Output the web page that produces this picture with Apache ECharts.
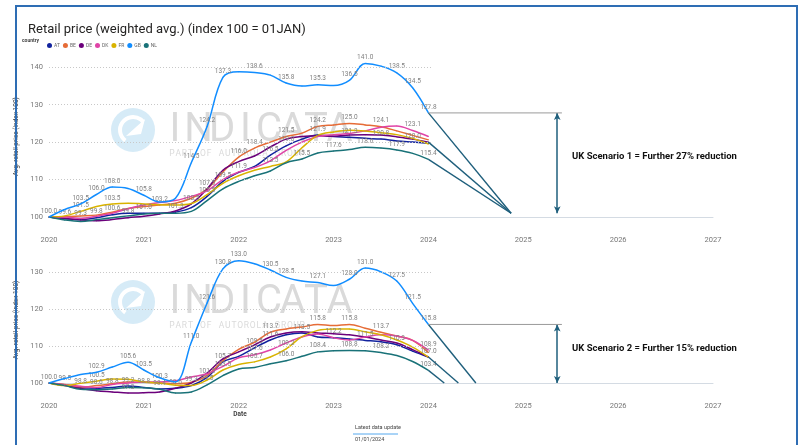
<!DOCTYPE html>
<html>
<head>
<meta charset="utf-8">
<title>Retail price (weighted avg.)</title>
<script src="https://cdn.jsdelivr.net/npm/echarts@6/dist/echarts.min.js"></script>
<style>
  html, body { margin: 0; padding: 0; background: #fff; }
  #chart { width: 801px; height: 445px; }
</style>
</head>
<body>
<div id="chart"></div>
<script>
// months on the chart (every 2 months, Jan 2020 - Jan 2024)
const months = ['2020-01', '2020-03', '2020-05', '2020-07', '2020-09', '2020-11',
  '2021-01', '2021-03', '2021-05', '2021-07', '2021-09', '2021-11',
  '2022-01', '2022-03', '2022-05', '2022-07', '2022-09', '2022-11',
  '2023-01', '2023-03', '2023-05', '2023-07', '2023-09', '2023-11', '2024-01'];
const countries = ['AT', 'BE', 'DE', 'DK', 'FR', 'GB', 'NL'];
const colors = ['#12239E', '#E66C37', '#6B007B', '#E044A7', '#D9B300', '#118DFF', '#197278'];

// top chart (scenario 1)
const s1AT = [100.0, 99.6, 99.3, 99.8, 100.6, 101.0, 101.0, 101.0, 101.3, 102.5, 105.5, 109.5, 111.9, 113.5, 116.5, 119.0, 120.8, 121.9, 121.5, 121.3, 121.0, 120.8, 120.3, 120.0, 119.7];
const s1BE = [100.0, 100.1, 100.3, 100.5, 101.3, 102.3, 102.8, 103.2, 103.7, 105.0, 107.5, 112.0, 116.0, 118.4, 120.0, 121.5, 122.4, 124.2, 124.6, 125.0, 124.6, 124.1, 123.0, 121.8, 120.6];
const s1DE = [100.0, 99.6, 99.2, 99.0, 99.3, 99.8, 100.2, 100.8, 101.6, 103.5, 107.5, 112.5, 114.8, 116.3, 118.7, 120.8, 121.5, 121.7, 121.6, 121.9, 122.0, 121.9, 121.4, 120.8, 120.0];
const s1DK = [100.0, 100.0, 99.6, 100.2, 101.0, 102.2, 103.2, 103.9, 104.4, 105.5, 107.0, 110.0, 112.0, 113.2, 115.0, 117.8, 120.0, 121.5, 122.0, 122.3, 123.0, 124.0, 124.3, 123.1, 121.5];
const s1FR = [100.0, 100.3, 101.5, 102.8, 103.5, 103.7, 103.5, 103.3, 103.2, 103.6, 106.0, 109.0, 111.0, 112.5, 113.5, 114.7, 118.5, 121.8, 122.7, 123.2, 123.0, 122.5, 122.0, 121.0, 119.5];
const s1GB = [100.0, 102.0, 103.5, 106.0, 108.0, 107.6, 105.8, 104.0, 105.0, 114.5, 124.2, 137.3, 138.8, 138.6, 137.9, 135.8, 135.0, 135.3, 135.1, 136.5, 141.0, 140.3, 138.5, 134.5, 127.8];
const s1NL = [100.0, 99.2, 98.8, 99.3, 99.8, 100.3, 100.8, 101.0, 101.0, 101.5, 104.4, 107.5, 109.5, 111.0, 112.3, 114.5, 115.5, 117.1, 117.6, 118.0, 118.6, 118.4, 117.9, 117.0, 115.4];

// bottom chart (scenario 2)
const s2AT = [100.0, 99.5, 98.8, 98.6, 98.8, 99.2, 98.8, 98.4, 98.6, 99.3, 101.5, 105.7, 107.2, 109.5, 111.6, 113.0, 113.5, 112.4, 112.2, 111.9, 111.5, 111.1, 110.3, 108.6, 107.0];
const s2BE = [100.0, 99.6, 98.9, 99.3, 99.8, 100.3, 100.2, 100.0, 99.8, 100.2, 102.0, 106.0, 109.1, 111.0, 113.7, 114.6, 115.1, 115.8, 115.5, 115.8, 114.8, 113.7, 112.7, 111.5, 108.2];
const s2DE = [100.0, 99.3, 98.5, 97.9, 97.6, 97.3, 97.4, 97.6, 98.6, 100.0, 102.7, 106.5, 108.4, 110.3, 112.4, 113.5, 113.8, 113.5, 113.3, 113.0, 112.4, 111.6, 110.8, 109.0, 107.0];
const s2DK = [100.0, 99.5, 99.1, 98.8, 99.6, 100.0, 100.3, 100.3, 100.6, 101.6, 102.5, 104.5, 106.8, 107.6, 108.9, 110.8, 112.4, 113.2, 112.2, 111.6, 112.4, 113.0, 112.7, 111.5, 108.9];
const s2FR = [100.0, 99.3, 99.9, 100.5, 101.1, 101.0, 100.3, 100.0, 99.4, 99.3, 100.8, 103.5, 105.0, 105.7, 107.0, 109.2, 112.5, 114.2, 114.6, 114.6, 113.8, 113.0, 111.6, 109.7, 107.0];
const s2GB = [100.0, 101.2, 102.3, 102.9, 104.3, 105.6, 103.5, 101.4, 100.3, 111.0, 121.6, 130.8, 133.0, 132.2, 130.5, 128.5, 127.5, 127.1, 126.3, 128.0, 131.0, 130.0, 127.5, 121.5, 115.8];
const s2NL = [100.0, 99.3, 98.3, 98.2, 98.4, 98.8, 98.7, 98.3, 97.3, 97.6, 99.5, 102.0, 103.8, 104.2, 105.2, 106.0, 107.2, 108.4, 108.7, 108.8, 108.7, 108.2, 107.4, 105.8, 103.4];

// projection lines from the latest data point
const s1ProjFrom = [127.8, 120.0, 115.4];
const s1ProjTo = ['2024-11-15', '2024-11-15', '2024-11-15'];
const s1ProjToValue = [101.0, 101.0, 101.0];
const s2ProjFrom = [115.8, 107.0, 103.4];
const s2ProjTo = ['2024-07-01', '2024-04-25', '2024-03-01'];
const s2ProjToValue = [100.0, 100.0, 100.0];

// scenario bracket (GB level -> end level)
const s1Bracket = [127.8, 101.0];
const s2Bracket = [115.8, 100.0];
const bracketDate = '2025-05-10';
const bracketLineEnd = '2025-05-28';

const s1Texts = 'UK Scenario 1 = Further 27% reduction';
const s2Texts = 'UK Scenario 2 = Further 15% reduction';

const s1Data = [s1AT, s1BE, s1DE, s1DK, s1FR, s1GB, s1NL];
const s2Data = [s2AT, s2BE, s2DE, s2DK, s2FR, s2GB, s2NL];

const FONT = 'Roboto, "Noto Sans", sans-serif';
const projColor = '#1f5f7c';

// 'YYYY-MM(-DD)' -> decimal year
const toYear = (s) => {
  const p = s.split('-').map(Number);
  return p[0] + (p[1] - 1) / 12 + ((p[2] || 1) - 1) / 365;
};

const myChart = echarts.init(document.getElementById('chart'));

const buildPanel = (gi, data, gridTop, projFrom, projTo, projToValue, bracket) => {
  const list = [];
  countries.forEach((c, k) => {
    list.push({
      name: c,
      type: 'line',
      xAxisIndex: gi,
      yAxisIndex: gi,
      data: months.map((m, i) => [toYear(m), data[k][i]]),
      smooth: 0.35,
      clip: false,
      symbol: 'circle',
      symbolSize: 1,
      showAllSymbol: true,
      itemStyle: { color: colors[k] },
      lineStyle: { color: colors[k], width: 1.5 },
      label: {
        show: true,
        position: 'top',
        distance: 2,
        fontSize: 6.5,
        color: '#808080',
        fontFamily: FONT,
        formatter: (p) => p.value[1].toFixed(1)
      },
      labelLayout: { hideOverlap: true },
      emphasis: { disabled: true },
      z: k === 5 ? 4 : 3
    });
  });
  // dotted gridlines, only across the data period
  list[0].markLine = {
    silent: true,
    symbol: 'none',
    label: { show: false },
    lineStyle: { type: [1, 2], color: '#c8c8c8', width: 1 },
    data: gridTop.map((t) => [{ coord: [2020, t] }, { coord: [toYear('2024-01-15'), t] }])
  };
  // projection lines
  projFrom.forEach((v, i) => {
    list.push({
      type: 'line',
      xAxisIndex: gi,
      yAxisIndex: gi,
      data: [[toYear(months[months.length - 1]), v], [toYear(projTo[i]), projToValue[i]]],
      symbol: 'none',
      clip: false,
      lineStyle: { color: projColor, width: 1.4 },
      emphasis: { disabled: true },
      z: 5
    });
  });
  // horizontal reference + double arrow
  list.push({
    type: 'line',
    xAxisIndex: gi,
    yAxisIndex: gi,
    data: [[toYear(months[months.length - 1]), bracket[0]], [toYear(bracketLineEnd), bracket[0]]],
    symbol: 'none',
    lineStyle: { color: '#9a9a9a', width: 1 },
    emphasis: { disabled: true },
    markLine: {
      silent: true,
      symbol: ['arrow', 'arrow'],
      symbolSize: [5, 7],
      label: { show: false },
      lineStyle: { color: projColor, width: 1.5, type: 'solid' },
      data: [[{ coord: [toYear(bracketDate), bracket[0]] }, { coord: [toYear(bracketDate), bracket[1]] }]]
    },
    z: 5
  });
  return list;
};

const series = []
  .concat(buildPanel(0, s1Data, [110, 120, 130, 140], s1ProjFrom, s1ProjTo, s1ProjToValue, s1Bracket))
  .concat(buildPanel(1, s2Data, [110, 120, 130], s2ProjFrom, s2ProjTo, s2ProjToValue, s2Bracket));

const xAxisCfg = (gi) => ({
  type: 'value',
  gridIndex: gi,
  min: 2020,
  max: 2027,
  interval: 1,
  axisLine: { show: true, lineStyle: { color: '#d4dbe3', width: 1 } },
  axisTick: { show: false },
  splitLine: { show: false },
  axisLabel: { fontSize: 7.5, color: '#777', margin: 19, fontFamily: FONT, formatter: (v) => String(v) }
});

const yAxisCfg = (gi, max) => ({
  type: 'value',
  gridIndex: gi,
  min: 100,
  max: max,
  interval: 10,
  axisLine: { show: false },
  axisTick: { show: false },
  splitLine: { show: false },
  axisLabel: { fontSize: 7.5, color: '#777', margin: 6, fontFamily: FONT,
    formatter: (v) => (v % 10 === 0 ? String(v) : '') },
  name: 'Avg. retail price (index 100)',
  nameLocation: 'middle',
  nameGap: 17,
  nameTextStyle: { fontSize: 6.5, color: '#444', fontFamily: FONT }
});

// letters placed one by one to get the wide watermark spacing
const spaced = (str, x0, step, y, size, color) =>
  str.split('').map((ch, i) => ({
    type: 'text',
    x: x0 + i * step,
    y: y,
    silent: true,
    style: { text: ch, fontSize: size, fill: color, fontFamily: FONT, align: 'center', verticalAlign: 'middle' }
  }));

const watermark = (cy) => [
  { type: 'circle', silent: true, shape: { cx: 133, cy: cy, r: 22 }, style: { fill: '#d6ebf7' } },
  { type: 'arc', silent: true, shape: { cx: 133, cy: cy, r: 13, startAngle: 2.2, endAngle: 5.6 },
    style: { stroke: '#fff', lineWidth: 4, fill: null } },
  { type: 'polygon', silent: true, shape: { points: [[126, cy + 6], [145, cy - 11], [141, cy + 4]] },
    style: { fill: '#fff' } }
]
  .concat(spaced('INDICATA', 175, 23.5, cy + 1, 40, '#dadada'))
  .concat(spaced('PART OF AUTOROLA GROUP', 172, 6.2, cy + 24, 8.5, '#dadada'));

const option = {
  animation: false,
  color: colors,
  title: {
    text: 'Retail price (weighted avg.) (index 100 = 01JAN)',
    left: 23,
    top: 18,
    textStyle: { fontSize: 13, fontWeight: 'normal', color: '#252423', fontFamily: FONT }
  },
  legend: {
    data: countries,
    left: 42,
    top: 38,
    icon: 'circle',
    itemWidth: 5,
    itemHeight: 5,
    itemGap: 3,
    selectedMode: false,
    itemStyle: { opacity: 1 },
    textStyle: { fontSize: 5, color: '#666', fontFamily: FONT, padding: [0, 0, 0, -3] }
  },
  grid: [
    { left: 49, right: 88, top: 56, height: 161 },
    { left: 49, right: 88, top: 257, height: 126 }
  ],
  xAxis: [xAxisCfg(0), xAxisCfg(1)],
  yAxis: [yAxisCfg(0, 143), yAxisCfg(1, 134)],
  graphic: [
    { type: 'rect', silent: true, z: 100, shape: { x: 16, y: 6, width: 781, height: 460 },
      style: { fill: null, stroke: '#2e6db4', lineWidth: 2 } },
    { type: 'text', left: 22, top: 38, silent: true,
      style: { text: 'country', fontSize: 5, fontWeight: 'bold', fill: '#444', fontFamily: FONT } },
    { type: 'text', left: 572, top: 152, silent: true,
      style: { text: s1Texts, fontSize: 9.5, fontWeight: 'bold', fill: '#111', fontFamily: FONT } },
    { type: 'text', left: 572, top: 344, silent: true,
      style: { text: s2Texts, fontSize: 9.5, fontWeight: 'bold', fill: '#111', fontFamily: FONT } },
    { type: 'text', x: 240, y: 414, silent: true,
      style: { text: 'Date', fontSize: 6.5, fontWeight: 'bold', fill: '#444', fontFamily: FONT, align: 'center', verticalAlign: 'middle' } },
    { type: 'text', left: 355, top: 425, silent: true,
      style: { text: 'Latest data update', fontSize: 5.5, fill: '#444', fontFamily: FONT } },
    { type: 'line', silent: true, shape: { x1: 353, y1: 434, x2: 398, y2: 434 },
      style: { stroke: '#55a8ee', lineWidth: 1 } },
    { type: 'text', left: 355, top: 437, silent: true,
      style: { text: '01/01/2024', fontSize: 5.5, fill: '#444', fontFamily: FONT } }
  ].concat(watermark(130)).concat(watermark(302)),
  series: series
};

myChart.setOption(option);
window.addEventListener('resize', () => myChart.resize());
</script>
</body>
</html>
